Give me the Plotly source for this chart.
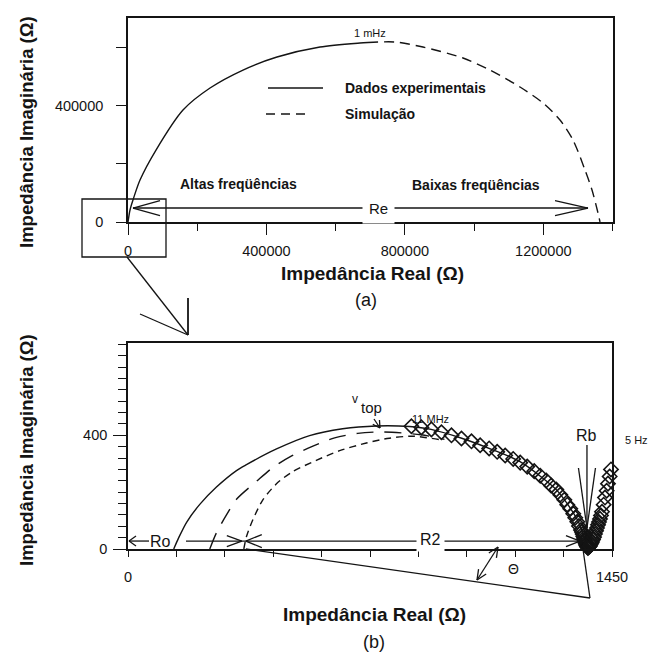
import plotly.graph_objects as go

# ---------------- panel (a): full impedance spectrum (Ω) ----------------
a_exp_re = [0, 5800, 14400, 34700, 80900, 158900, 237000, 332300, 430500, 554800, 670400, 693500]
a_exp_im = [0, 41200, 75500, 144100, 247000, 384300, 459800, 521500, 566100, 600400, 614100, 615800]
a_sim_re = [693500, 771500, 852400, 968000, 1046000, 1132700, 1199200, 1248300,
            1285900, 1320500, 1340800, 1358100, 1363900]
a_sim_im = [615800, 617600, 600400, 562700, 521500, 463200, 408300, 350000,
            281300, 178400, 109800, 30900, 0]
a_re_total = 1363900          # low-frequency intercept (Re)

a_xtick_vals = [0, 400000, 800000, 1200000]
a_xtick_text = ["0", "400000", "800000", "1200000"]
a_xminor_vals = [200000, 600000, 1000000, 1400000]
a_ytick_vals = [0, 200000, 400000, 600000]
a_ytick_text = ["0", "", "400000", ""]

# ---------------- panel (b): high-frequency detail (Ω) ----------------
b_fit1_re = [137, 152, 176, 215, 265, 325, 355, 445, 544, 643, 744, 843, 908,
             1002, 1091, 1172, 1241, 1283, 1322, 1351, 1372, 1378]
b_fit1_im = [0, 40, 95, 157, 218, 276, 297, 352, 399, 423, 433, 431, 421,
             389, 350, 309, 251, 209, 149, 92, 21, 0]
b_fit2_re = [245, 265, 295, 325, 385, 434, 489, 554, 619, 688, 762, 878, 948]
b_fit2_im = [0, 57, 120, 175, 238, 287, 327, 362, 391, 407, 412, 402, 386]
b_fit3_re = [347, 355, 374, 404, 447, 493, 564, 634, 714, 783, 852, 933]
b_fit3_im = [0, 44, 103, 173, 232, 272, 312, 346, 373, 390, 397, 385]

b_exp_re = [849, 879, 909, 939, 969, 999, 1029, 1055, 1082, 1106, 1130, 1154,
            1175, 1196, 1217, 1235, 1253, 1268, 1283, 1295, 1307, 1316, 1325,
            1334, 1340, 1346, 1351, 1357, 1360, 1362, 1364, 1366, 1367, 1369,
            1370, 1372, 1373, 1375, 1377, 1378, 1380, 1382, 1384, 1386, 1388,
            1390, 1393, 1396, 1399, 1402, 1405, 1408, 1411, 1414, 1417, 1420,
            1425, 1429, 1434, 1438, 1443, 1447, 1452, 1456]
b_exp_im = [432, 428, 421, 411, 400, 389, 379, 365, 354, 342, 329, 317,
            304, 290, 274, 258, 241, 223, 209, 191, 173, 156, 142,
            124, 110, 96, 81, 67, 60, 53, 45, 39, 33, 28,
            22, 18, 13, 9, 5, 4, 6, 9, 11, 17, 21,
            25, 33, 42, 53, 64, 74, 85, 95, 106, 118, 131,
            156, 181, 205, 230, 255, 280, 304, 329]

b_r0 = 137        # start of the first arc
b_r2_start = 347  # start of the inner arc
b_rb = 1375       # bulk resistance

b_xtick_vals = [145 * i for i in range(11)]
b_xtick_text = ["0"] + [""] * 9 + ["1450"]
b_ytick_vals = [0, 400]
b_ytick_text = ["0", "400"]
b_yminor_vals = [40 * i for i in range(19)]

# ---------------- page geometry (pixels) ----------------
W, H = 652, 653
A_L, A_R, A_T, A_B = 128, 612.5, 18, 222
A_XR, A_YR = [0, 1400000], [0, 700000]
B_L, B_R, B_T, B_B = 128, 612, 343, 549
B_XR, B_YR = [0, 1450], [0, 725]

INK = "#141414"
FONT = "Liberation Sans, Arial, sans-serif"


def fx(p):
    return p / W


def fy(p):
    return 1 - p / H


def a_px(v):
    return A_L + (v - A_XR[0]) / (A_XR[1] - A_XR[0]) * (A_R - A_L)


def a_py(v):
    return A_B - (v - A_YR[0]) / (A_YR[1] - A_YR[0]) * (A_B - A_T)


def b_px(v):
    return B_L + (v - B_XR[0]) / (B_XR[1] - B_XR[0]) * (B_R - B_L)


def b_py(v):
    return B_B - (v - B_YR[0]) / (B_YR[1] - B_YR[0]) * (B_B - B_T)


shapes = []


def seg(x0, y0, x1, y1, width=1.3, dash=None):
    ln = dict(color=INK, width=width)
    if dash:
        ln["dash"] = dash
    shapes.append(dict(type="line", xref="paper", yref="paper",
                       x0=fx(x0), y0=fy(y0), x1=fx(x1), y1=fy(y1), line=ln))


def vhead(tx, ty, fromx, fromy, length, half):
    dx, dy = tx - fromx, ty - fromy
    n = (dx * dx + dy * dy) ** 0.5
    ux, uy = dx / n, dy / n
    bx, by = tx - ux * length, ty - uy * length
    seg(bx - uy * half, by + ux * half, tx, ty)
    seg(bx + uy * half, by - ux * half, tx, ty)


annotations = []


def text(s, x, y, size, bold=False, xanchor="center", angle=0, bg=None, pad=1):
    if bold:
        s = "<b>" + s + "</b>"
    d = dict(text=s, x=fx(x), y=fy(y), xref="paper", yref="paper",
             xanchor=xanchor, yanchor="middle", showarrow=False, textangle=angle,
             font=dict(family=FONT, size=size, color=INK), borderpad=pad)
    if bg:
        d["bgcolor"] = bg
    annotations.append(d)


fig = go.Figure()

line_style = dict(color=INK, width=1.4, shape="spline", smoothing=0.8)
fig.add_trace(go.Scatter(x=a_exp_re, y=a_exp_im, mode="lines", line=line_style,
                         xaxis="x", yaxis="y", cliponaxis=False, name="Dados experimentais"))
fig.add_trace(go.Scatter(x=a_sim_re, y=a_sim_im, mode="lines",
                         line=dict(line_style, dash="10px,6px"),
                         xaxis="x", yaxis="y", cliponaxis=False, name="Simulação"))

fig.add_trace(go.Scatter(x=b_fit1_re, y=b_fit1_im, mode="lines", line=line_style,
                         xaxis="x2", yaxis="y2", cliponaxis=False))
fig.add_trace(go.Scatter(x=b_fit2_re, y=b_fit2_im, mode="lines",
                         line=dict(line_style, dash="17px,11px"),
                         xaxis="x2", yaxis="y2", cliponaxis=False))
fig.add_trace(go.Scatter(x=b_fit3_re, y=b_fit3_im, mode="lines",
                         line=dict(line_style, dash="7px,5px"),
                         xaxis="x2", yaxis="y2", cliponaxis=False))
fig.add_trace(go.Scatter(x=b_exp_re, y=b_exp_im, mode="markers",
                         marker=dict(symbol="diamond-open", size=11, color=INK,
                                     line=dict(color=INK, width=1.6)),
                         xaxis="x2", yaxis="y2", cliponaxis=False))

# ---- panel (a) decorations ----
seg(268, 88, 323, 88, width=1.4)
seg(266, 114, 308, 114, width=1.4, dash="9px,6px")
text("Dados experimentais", 343, 88, 14, bold=True, xanchor="left")
text("Simulação", 343, 114, 14, bold=True, xanchor="left")
text("1 mHz", 370, 33, 11)
text("Altas freqüências", 178, 184, 14, bold=True, xanchor="left")
text("Baixas freqüências", 410, 185, 14, bold=True, xanchor="left")

re_y = a_py(48000)
re_l = a_px(0) + 5
re_r = a_px(a_re_total) - 12
seg(re_l, re_y, re_r, re_y)
vhead(re_l, re_y, re_r, re_y, 27, 7.5)
vhead(re_r, re_y, re_l, re_y, 33, 7.5)
text("Re", 378, re_y, 15, bg="white", pad=6)

# zoom callout around the origin
shapes.append(dict(type="rect", xref="paper", yref="paper",
                   x0=fx(82), y0=fy(257), x1=fx(166), y1=fy(199),
                   line=dict(color=INK, width=1.3)))
seg(127, 257, 188, 335)
seg(140, 314, 188, 335)
seg(188, 298, 188, 335, width=1.8)

# ---- panel (b) decorations ----
text("v", 355, 399, 12)
text("top", 371, 407, 15)
seg(374, 419, 380, 428)
vhead(380, 428, 374, 419, 7, 4)
text("11 MHz", 430, 419, 11)
text("5 Hz", 623, 440, 11, xanchor="left")

rb_x = b_px(b_rb)
text("Rb", rb_x, 435, 16)
seg(rb_x, 445, rb_x, 528)
vhead(rb_x, 528, rb_x, 445, 60, 8.5)

arr_y = b_py(28)
ro_tip = b_px(0) + 1
seg(ro_tip, arr_y, ro_tip + 20, arr_y)
vhead(ro_tip, arr_y, ro_tip + 20, arr_y, 7, 5)
text("Ro", 160, arr_y, 16, xanchor="center")

r2_l = b_px(b_r2_start)
r2_r = b_px(b_rb) - 7
seg(186, arr_y, r2_r, arr_y)
vhead(r2_l - 2, arr_y, 186, arr_y, 15, 5.5)
vhead(r2_l + 2, arr_y, r2_r, arr_y, 16, 6.5)
vhead(r2_r, arr_y, r2_l, arr_y, 14, 5.5)
text("R2", 430, arr_y - 2, 16, bg="white", pad=3)

# depression-angle construction below the axis
apex_x, apex_y = b_px(b_rb) + 3, 598
seg(r2_l + 2, B_B, apex_x, apex_y)
seg(rb_x - 4, B_B, apex_x, apex_y)
seg(498, 547, 477, 580)
vhead(498, 547, 477, 580, 10, 4.5)
vhead(477, 580, 498, 547, 10, 4.5)
text("Θ", 513, 569, 14)

# ---- axis titles and panel captions ----
text("Impedância Imaginária (Ω)", 26, 132, 18.5, bold=True, angle=-90)
text("Impedância Real (Ω)", 372, 273, 19, bold=True)
text("(a)", 366, 300, 18)
text("Impedância Imaginária (Ω)", 26, 450, 18.5, bold=True, angle=-90)
text("Impedância Real (Ω)", 374, 614, 19, bold=True)
text("(b)", 374, 642, 18)

axis_common = dict(showline=True, linecolor=INK, linewidth=1.6, mirror=True,
                   ticks="outside", tickcolor=INK, tickwidth=1.3, showgrid=False,
                   zeroline=False, tickmode="array", automargin=False,
                   tickfont=dict(family=FONT, size=14.5, color=INK), fixedrange=True)

fig.update_layout(
    width=W, height=H, autosize=False, margin=dict(l=0, r=0, t=0, b=0, autoexpand=False),
    paper_bgcolor="white", plot_bgcolor="white", showlegend=False,
    xaxis=dict(axis_common, domain=[fx(A_L), fx(A_R)], range=A_XR, anchor="y",
               tickvals=a_xtick_vals, ticktext=a_xtick_text, ticklen=11,
               ticklabelstandoff=4,
               minor=dict(tickvals=a_xminor_vals, ticklen=7, ticks="outside",
                          tickcolor=INK, tickwidth=1.3)),
    yaxis=dict(axis_common, domain=[fy(A_B), fy(A_T)], range=A_YR, anchor="x",
               tickvals=a_ytick_vals, ticktext=a_ytick_text, ticklen=10,
               ticklabelstandoff=10),
    xaxis2=dict(axis_common, domain=[fx(B_L), fx(B_R)], range=B_XR, anchor="y2",
                tickvals=b_xtick_vals, ticktext=b_xtick_text, ticklen=6,
                ticklabelstandoff=8),
    yaxis2=dict(axis_common, domain=[fy(B_B), fy(B_T)], range=B_YR, anchor="x2",
                tickvals=b_ytick_vals, ticktext=b_ytick_text, ticklen=13,
                ticklabelstandoff=3,
                minor=dict(tickvals=b_yminor_vals, ticklen=8, ticks="outside",
                           tickcolor=INK, tickwidth=1.3)),
    shapes=shapes, annotations=annotations,
)

fig.write_html("out.html")
